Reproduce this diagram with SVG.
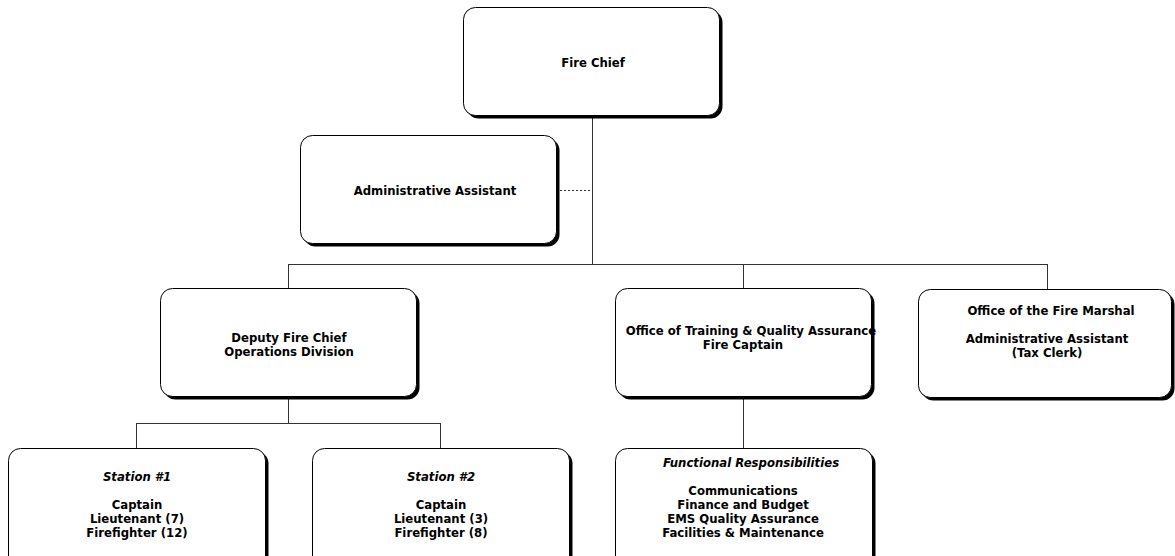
<svg xmlns="http://www.w3.org/2000/svg" width="1175" height="556" viewBox="0 0 1175 556">
<style>
.box{fill:#fff;stroke:#000;stroke-width:1}
.sh{fill:#000}
.t{font-family:"DejaVu Sans","Liberation Sans",sans-serif;font-weight:bold;font-size:11.7px;fill:#000;text-anchor:middle}
.i{font-style:italic}
.c{fill:none;stroke:#333;stroke-width:1}
.d{fill:none;stroke:#333;stroke-width:1;stroke-dasharray:2 2}
</style>
<rect width="1175" height="556" fill="#fff"/>
<g id="connectors">
<path class="c" d="M592.5 118V264.5M288.5 264.5H1047.5M288.5 264V288M743.5 264V288M1047.5 264V289"/>
<path class="d" d="M560 190.5H592"/>
<path class="c" d="M288.5 399V423.5M136.5 423.5H440.5M136.5 423V448M440.5 423V448M743.5 399V448"/>
</g>
<g id="fire-chief">
<rect class="sh" x="466.5" y="10.5" width="256" height="108" rx="12"/>
<rect class="box" x="463.5" y="7.5" width="256" height="108" rx="12"/>
<text class="t" x="593" y="67">Fire Chief</text>
</g>
<g id="admin-assistant">
<rect class="sh" x="303.5" y="138.5" width="256" height="108" rx="12"/>
<rect class="box" x="300.5" y="135.5" width="256" height="108" rx="12"/>
<text class="t" x="435" y="195">Administrative Assistant</text>
</g>
<g id="deputy">
<rect class="sh" x="163.5" y="291.5" width="256" height="108" rx="12"/>
<rect class="box" x="160.5" y="288.5" width="256" height="108" rx="12"/>
<text class="t" x="289" y="342">Deputy Fire Chief</text>
<text class="t" x="289" y="356">Operations Division</text>
</g>
<g id="training">
<rect class="sh" x="618.5" y="291.5" width="256" height="108" rx="12"/>
<rect class="box" x="615.5" y="288.5" width="256" height="108" rx="12"/>
<text class="t" x="751" y="335">Office of Training &amp; Quality Assurance</text>
<text class="t" x="743" y="349">Fire Captain</text>
</g>
<g id="fire-marshal">
<rect class="sh" x="921.5" y="292.5" width="253" height="108" rx="12"/>
<rect class="box" x="918.5" y="289.5" width="253" height="108" rx="12"/>
<text class="t" x="1051" y="315">Office of the Fire Marshal</text>
<text class="t" x="1047" y="343">Administrative Assistant</text>
<text class="t" x="1047" y="357">(Tax Clerk)</text>
</g>
<g id="station-1">
<rect class="sh" x="11.5" y="451.5" width="257" height="120" rx="12"/>
<rect class="box" x="8.5" y="448.5" width="257" height="120" rx="12"/>
<text class="t i" x="137" y="481">Station #1</text>
<text class="t" x="137" y="509">Captain</text>
<text class="t" x="137" y="523">Lieutenant (7)</text>
<text class="t" x="137" y="537">Firefighter (12)</text>
</g>
<g id="station-2">
<rect class="sh" x="315.5" y="451.5" width="257" height="120" rx="12"/>
<rect class="box" x="312.5" y="448.5" width="257" height="120" rx="12"/>
<text class="t i" x="441" y="481">Station #2</text>
<text class="t" x="441" y="509">Captain</text>
<text class="t" x="441" y="523">Lieutenant (3)</text>
<text class="t" x="441" y="537">Firefighter (8)</text>
</g>
<g id="functional">
<rect class="sh" x="618.5" y="451.5" width="257" height="120" rx="12"/>
<rect class="box" x="615.5" y="448.5" width="257" height="120" rx="12"/>
<text class="t i" x="751" y="467">Functional Responsibilities</text>
<text class="t" x="743" y="495">Communications</text>
<text class="t" x="743" y="509">Finance and Budget</text>
<text class="t" x="743" y="523">EMS Quality Assurance</text>
<text class="t" x="743" y="537">Facilities &amp; Maintenance</text>
</g>
</svg>
